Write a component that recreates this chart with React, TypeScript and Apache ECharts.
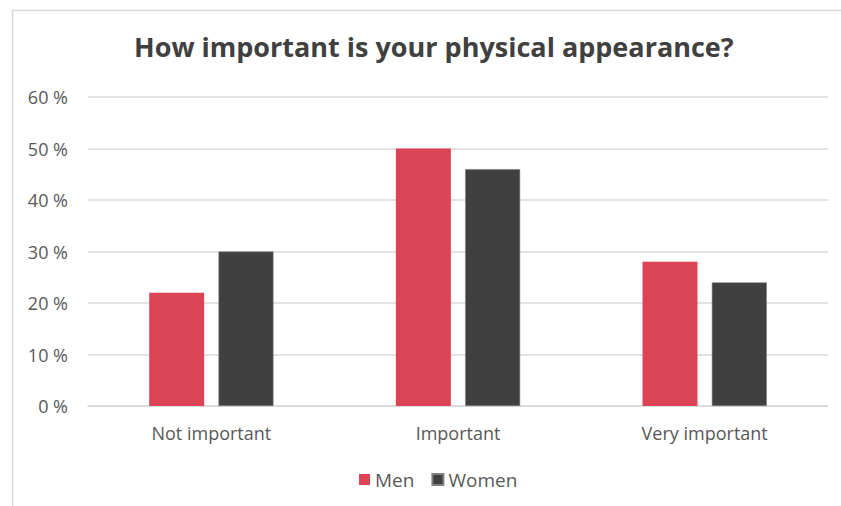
import React, { useEffect, useRef } from "react";
import * as echarts from "echarts";

const categories = ["Not important", "Important", "Very important"];
const menValues = [22, 50, 28];
const womenValues = [30, 46, 24];
const seriesNames = ["Men", "Women"];

export default function App() {
  const ref = useRef<HTMLDivElement>(null);
  useEffect(() => {
    if (!ref.current) return;
    const chart = echarts.init(ref.current, null, { renderer: "svg" });
    const font = "'Open Sans', 'Liberation Sans', sans-serif";
    chart.setOption({
      animation: false,
      backgroundColor: "#ffffff",
      textStyle: { fontFamily: font },
      graphic: [
        {
          type: "rect",
          shape: { x: 12.5, y: 10.5, width: 850, height: 520 },
          style: { fill: "none", stroke: "#d9d9d9", lineWidth: 1.5 },
          silent: true,
        },
      ],
      title: {
        text: "How important is your physical appearance?",
        left: 129,
        top: 28,
        textStyle: {
          fontFamily: font,
          fontSize: 27,
          fontWeight: "bold",
          color: "#404040",
        },
      },
      legend: {
        data: seriesNames,
        bottom: 12,
        left: 354,
        itemWidth: 11,
        itemHeight: 11,
        itemGap: 17,
        icon: "rect",
        textStyle: { fontFamily: font, fontSize: 19, color: "#595959" },
      },
      grid: { left: 88, right: 13, top: 97, bottom: 100, containLabel: false },
      xAxis: {
        type: "category",
        data: categories,
        axisLine: { lineStyle: { color: "#d9d9d9", width: 1.5 } },
        axisTick: { show: false },
        axisLabel: { fontFamily: font, fontSize: 18, color: "#595959", margin: 18 },
      },
      yAxis: {
        type: "value",
        min: 0,
        max: 60,
        interval: 10,
        axisLine: { show: false },
        axisTick: { show: false },
        splitLine: { lineStyle: { color: "#d9d9d9", width: 1.5 } },
        axisLabel: {
          fontFamily: font,
          fontSize: 18,
          color: "#595959",
          margin: 20,
          formatter: (v: number) => v + " %",
        },
      },
      series: [
        {
          name: seriesNames[0],
          type: "bar",
          data: menValues,
          barWidth: "22.3%",
          barGap: "26%",
          itemStyle: { color: "#db4454" },
        },
        {
          name: seriesNames[1],
          type: "bar",
          data: womenValues,
          barWidth: "22.3%",
          itemStyle: { color: "#404040", borderColor: "#7f7f7f", borderWidth: 0.6 },
        },
      ],
    });
    return () => chart.dispose();
  }, []);
  return (
    <div
      ref={ref}
      style={{ position: "fixed", left: 0, top: 0, width: 841, height: 506 }}
    />
  );
}
